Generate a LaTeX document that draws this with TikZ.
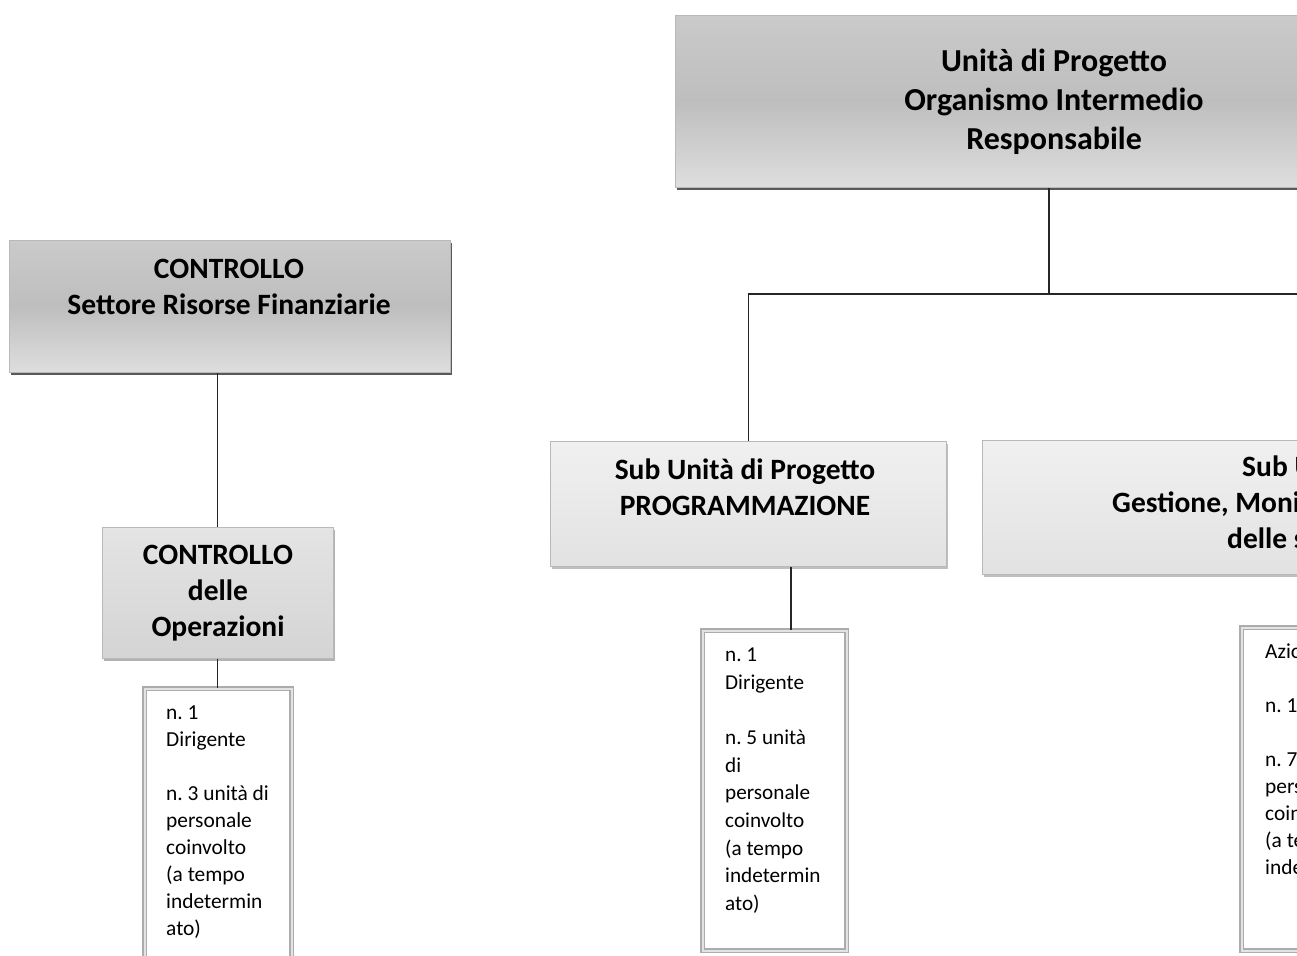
\documentclass[tikz,border=0pt]{standalone}
\usepackage{fontspec}
\setmainfont{Carlito}
\frenchspacing
\usetikzlibrary{positioning, shadows}
\definecolor{darktop}{HTML}{CACACA}
\definecolor{darkmid}{HTML}{BEBEBE}
\definecolor{darkbot}{HTML}{DEDEDE}
\definecolor{lighttop}{HTML}{E4E4E4}
\definecolor{lightbot}{HTML}{D4D4D4}
\definecolor{paletop}{HTML}{F0F0F0}
\definecolor{palebot}{HTML}{E2E2E2}
\tikzset{
    orgchart/.style={x=1pt, y=-1pt},
    boxbase/.style={draw=gray!55, line width=0.6pt, anchor=north west, inner sep=0pt},
    darkbox/.style={boxbase, top color=darktop, bottom color=darkbot, middle color=darkmid,
        general shadow={shadow xshift=2pt, shadow yshift=-3pt, fill=black!65}},
    lightbox/.style={boxbase, top color=lighttop, bottom color=lightbot,
        general shadow={shadow xshift=1.5pt, shadow yshift=-2.5pt, fill=gray!60}},
    palebox/.style={boxbase, top color=paletop, bottom color=palebot,
        general shadow={shadow xshift=1.5pt, shadow yshift=-2.5pt, fill=gray!50}},
    headtext/.style={font=\bfseries\fontsize{29.5}{35.5}\selectfont, align=center, inner sep=0pt, anchor=north},
    staffbox/.style={draw=gray!65, double=gray!22, double distance=1.4pt, line width=1.8pt,
        anchor=north west, inner sep=0pt},
    stafftext/.style={font=\fontsize{21.4}{26.9}\selectfont, align=left, inner sep=0pt, anchor=north west},
    link/.style={draw=black!85, line width=1.2pt},
}
\begin{document}
\begin{tikzpicture}[orgchart]
    \useasboundingbox (0,0) rectangle (1297,955);
    \clip (0,0) rectangle (1297,955);

    % boxes
    \node[darkbox, minimum width=700pt, minimum height=172pt] (resp) at (675,15) {};
    \node[darkbox, minimum width=441pt, minimum height=132pt] (ctrl) at (9,240) {};
    \node[lightbox, minimum width=231pt, minimum height=131pt] (ctrlop) at (102,527) {};
    \node[palebox, minimum width=396pt, minimum height=125pt] (prog) at (550,441) {};
    \node[palebox, minimum width=500pt, minimum height=134pt] (gest) at (982,440) {};

    \node[staffbox, minimum width=147pt, minimum height=320pt] (staffctrl) at (144,688) {};
    \node[staffbox, minimum width=144pt, minimum height=320pt] (staffprog) at (702,630) {};
    \node[staffbox, minimum width=200pt, minimum height=323pt] (staffgest) at (1241,627) {};

    % texts
    \node[headtext, font=\bfseries\fontsize{32}{39}\selectfont] (resptxt) at (1054,49)
        {Unità di Progetto\\Organismo Intermedio\\Responsabile};
    \node[headtext] (ctrltxt) at (229,259) {CONTROLLO\\Settore Risorse Finanziarie};
    \node[headtext, font=\bfseries\fontsize{29.5}{36}\selectfont] (ctrloptxt) at (218,545)
        {CONTROLLO\\delle\\Operazioni};
    \node[headtext] (progtxt) at (745,459) {Sub Unità di Progetto\\PROGRAMMAZIONE};
    \node[headtext, anchor=north west] (gesta) at (1242,456) {Sub U};
    \node[headtext, anchor=north west] (gestb) at (1112,492) {Gestione, Moni};
    \node[headtext, anchor=north west] (gestc) at (1227,528) {delle s};

    \node[stafftext] (staffctrltxt) at (166,706)
        {n. 1\\Dirigente\\[26.9pt]n. 3 unità di\\personale\\coinvolto\\(a tempo\\indetermin\\ato)};
    \node[stafftext, font=\fontsize{21.2}{27.6}\selectfont] (staffprogtxt) at (725,648)
        {n. 1\\Dirigente\\[27.6pt]n. 5 unità\\di\\personale\\coinvolto\\(a tempo\\indetermin\\ato)};
    \node[stafftext] (staffgesttxt) at (1265,644)
        {Azio\\[26.9pt]n. 1\\[26.9pt]n. 7\\pers\\coin\\(a te\\inde};

    % connectors
    \coordinate (resphub) at (1049,294);
    \coordinate (rightend) at (1310,294);
    \draw[link] (resp.south -| resphub) -- (resphub);
    \draw[link] (prog.north) |- (rightend);
    \draw[link] (ctrl.south -| ctrlop.north) -- (ctrlop.north);
    \draw[link] (ctrlop.south) -- (ctrlop.south |- staffctrl.north);
    \draw[link] ([xshift=16pt]staffprog.north |- prog.south) -- ([xshift=16pt]staffprog.north);
\end{tikzpicture}
\end{document}
